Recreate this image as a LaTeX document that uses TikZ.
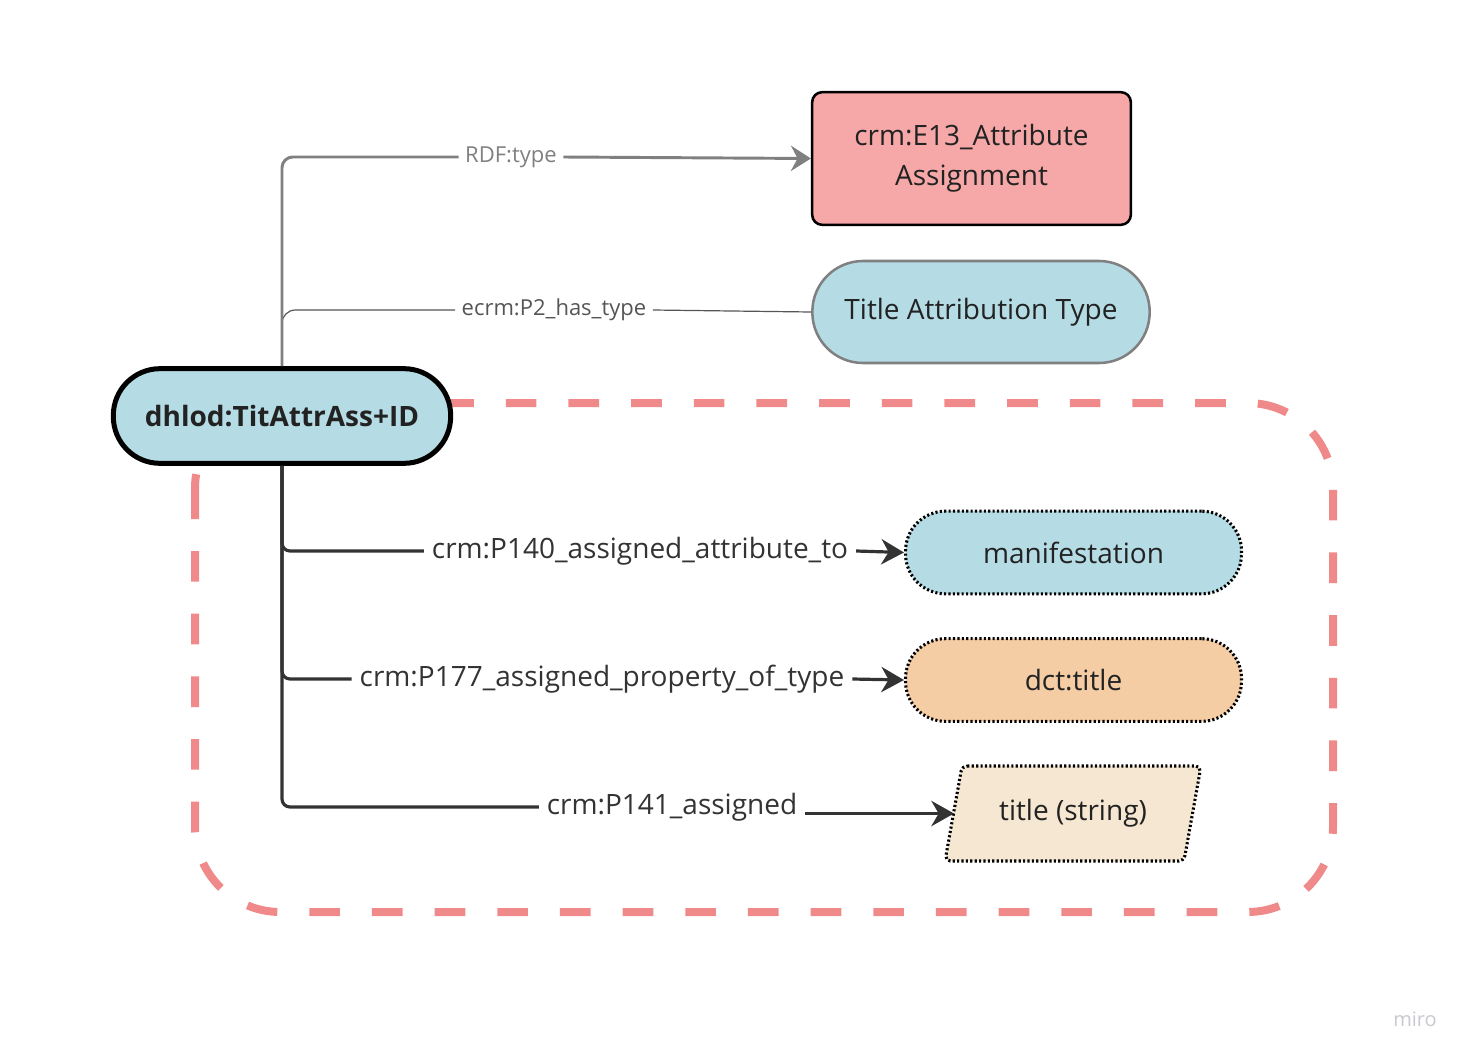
\documentclass[tikz,border=0pt]{standalone}
\usepackage{fontspec}
\setmainfont{Open Sans}
\usetikzlibrary{arrows.meta}
\definecolor{lblue}{HTML}{B5DCE4}
\definecolor{pinkfill}{HTML}{F6A8A8}
\definecolor{peach}{HTML}{F4CDA5}
\definecolor{cream}{HTML}{F5E7D1}
\definecolor{dashpink}{HTML}{F08A8A}
\definecolor{darkln}{HTML}{333333}
\definecolor{midgray}{HTML}{808080}
\definecolor{thingray}{HTML}{555555}
\definecolor{txt}{HTML}{222222}
\definecolor{mirogray}{HTML}{C8C8D2}
\begin{document}
\begin{tikzpicture}[x=0.75pt,y=-0.75pt,
  nodefont/.style={font=\fontsize{21}{30}\selectfont, text=txt},
  lblfont/.style={font=\fontsize{21}{25}\selectfont, text=darkln, inner sep=0pt, outer xsep=6pt},
  smallfont/.style={font=\fontsize{16.5}{20}\selectfont, inner sep=0pt, outer xsep=5pt},
  dotted line/.style={draw=black, line width=2.3pt, dash pattern=on 1.6pt off 1.7pt},
  dotbox/.style={dotted line, minimum width=252pt, minimum height=62pt, rounded corners=30pt, nodefont},
  darkarrow/.style={draw=darkln, line width=2.4pt, rounded corners=6pt, -{Stealth[length=17pt,width=19pt,inset=5.5pt]}},
  branch/.style={draw=darkln, line width=2.4pt, rounded corners=6pt},
]
\useasboundingbox (0,0) rectangle (1473,1060);
% dashed group frame
\draw[dashpink, line width=6pt, dash pattern=on 23pt off 24pt, rounded corners=64pt] (195,403) rectangle (1333,912);

% nodes
\node[draw=black, fill=pinkfill, line width=1.9pt, rounded corners=7.5pt, minimum width=239pt, minimum height=99.5pt, align=center, nodefont] (e13) at (971.5,158.5) {crm:E13\_Attribute\\Assignment};
\node[draw=midgray, fill=lblue, line width=1.9pt, rounded corners=38pt, minimum width=253pt, minimum height=76.5pt, nodefont] (tat) at (981,312) {Title Attribution Type};
\node[draw=black, fill=lblue, line width=3.75pt, rounded corners=35pt, minimum width=253pt, minimum height=71pt, nodefont, font=\fontsize{21}{25}\selectfont\bfseries] (dhl) at (282,416) {dhlod:TitAttrAss+ID};
\node[dotbox, fill=lblue] (man) at (1073.5,552.5) {manifestation};
\node[dotbox, fill=peach] (dct) at (1073.5,680) {dct:title};
% parallelogram
\draw[dotted line, fill=cream, rounded corners=4pt] (962,766) -- (1201,766) -- (1184,861) -- (945,861) -- cycle;
\node[nodefont] (ts) at (1073,813.5) {title (string)};
\coordinate (tsw) at (954,813.5);

% labels
\node[smallfont, text=midgray] (lr) at (511,157) {RDF:type};
\node[smallfont, text=thingray] (l2) at (554,310) {ecrm:P2\_has\_type};
\node[lblfont] (l1) at (640,551) {crm:P140\_assigned\_attribute\_to};
\node[lblfont] (lp) at (602,679) {crm:P177\_assigned\_property\_of\_type};
\node[lblfont] (l3) at (672,807) {crm:P141\_assigned};

% connectors
\draw[thingray, line width=0.9pt, rounded corners=10pt] (dhl.north) |- (l2.west);
\draw[thingray, line width=0.9pt] (l2.east) -- (tat.west);
\draw[midgray, line width=2.2pt, rounded corners=8pt] (dhl.north) |- (lr.west);
\draw[midgray, line width=2.2pt, -{Stealth[length=15pt,width=19pt,inset=5pt]}] (lr.east) -- (e13.west);

\draw[branch] (dhl.south) |- (l1.west);
\draw[darkarrow] (l1.east) -- (man.west);
\draw[branch] (dhl.south) |- (lp.west);
\draw[darkarrow] (lp.east) -- (dct.west);
\draw[branch] (dhl.south) |- (l3.west);
\draw[darkarrow] (l3.east |- tsw) -- (tsw);

\node[font=\fontsize{15}{18}\selectfont, text=mirogray] (miro) at (1415,1019) {miro};
\end{tikzpicture}
\end{document}
